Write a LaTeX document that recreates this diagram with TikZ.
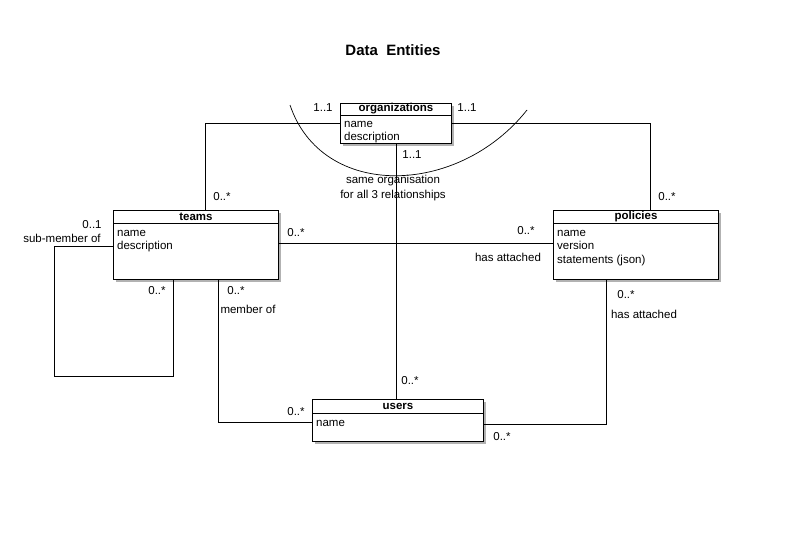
\documentclass[tikz,border=0pt]{standalone}
\usepackage{fontspec}
\setmainfont{Liberation Sans}
\usetikzlibrary{shadows}
\tikzset{
      entity/.style={draw=black, fill=white, line width=1, anchor=north west, inner sep=0,
            drop shadow={shadow xshift=2.5pt, shadow yshift=-2.5pt, opacity=.5, fill=black!60}},
      header/.style={font=\fontsize{11.5}{13}\selectfont\bfseries, inner sep=0},
      attrs/.style={font=\fontsize{11.5}{13.5}\selectfont, anchor=north west, align=left, inner ysep=0, inner xsep=4},
      rel/.style={draw=black, line width=0.9},
      lbl/.style={font=\fontsize{11.5}{13}\selectfont, inner sep=0},
}
\begin{document}
\begin{tikzpicture}[x=1pt, y=-1pt]
        \useasboundingbox (0,0) rectangle (805,536);

        % Title
        \node[font=\fontsize{15}{17}\selectfont\bfseries] (title) at (393,50) {Data\ \ Entities};

        % Draw the entities
        \node[entity, minimum width=111, minimum height=40] (org) at (340,103) {};
        \draw[line width=1] ([yshift=-12]org.north west) -- ([yshift=-12]org.north east);
        \node[header] (orgname) at ([yshift=-6]org.north) {organizations};
        \node[attrs] (orgattr) at ([yshift=-18]org.north west) {name\\description};

        \node[entity, minimum width=165, minimum height=69] (teams) at (113,210) {};
        \draw[line width=1] ([yshift=-13]teams.north west) -- ([yshift=-13]teams.north east);
        \node[header] (teamsname) at ([yshift=-6.5]teams.north) {teams};
        \node[attrs] (teamsattr) at ([yshift=-20]teams.north west) {name\\description};

        \node[entity, minimum width=165, minimum height=69] (policies) at (553,210) {};
        \draw[line width=1] ([yshift=-13]policies.north west) -- ([yshift=-13]policies.north east);
        \node[header] (policiesname) at ([yshift=-6.5]policies.north) {policies};
        \node[attrs] (policiesattr) at ([yshift=-20]policies.north west) {name\\version\\statements (json)};

        \node[entity, minimum width=171, minimum height=42] (users) at (312,399) {};
        \draw[line width=1] ([yshift=-14]users.north west) -- ([yshift=-14]users.north east);
        \node[header] (usersname) at ([yshift=-7]users.north) {users};
        \node[attrs] (usersattr) at ([yshift=-21]users.north west) {name};

        % Draw the relationships
        \coordinate (loop) at (54,376);
        \draw[rel] ([yshift=-20]org.north west) -| ([xshift=9.5]teams.north);
        \draw[rel] ([yshift=-20]org.north east) -| ([xshift=14.5]policies.north);
        \draw[rel] (org.south) -- (org.south |- users.north);
        \draw[rel] ([yshift=-33]teams.north east) -- ([yshift=-33]policies.north west);
        \draw[rel] ([yshift=-36]teams.north west) -| (loop) -| ([xshift=-22.5]teams.south);
        \draw[rel] ([xshift=22.5]teams.south) |- ([yshift=-23]users.north west);
        \draw[rel] ([xshift=-29.5]policies.south) |- ([yshift=-25]users.north east);

        % same organisation arc
        \draw[line width=0.7] (290,105) .. controls (322,200) and (458,197) .. (527,110);
        \node[lbl, align=center, font=\fontsize{11.5}{15}\selectfont] (note) at (393,188) {same organisation\\for all 3 relationships};

        % Multiplicities
        \node[lbl] (m1) at (323,108) {1..1};
        \node[lbl] (m2) at (467,108) {1..1};
        \node[lbl] (m3) at (412,155) {1..1};
        \node[lbl] (m4) at (222,197) {0..*};
        \node[lbl] (m5) at (667,197) {0..*};
        \node[lbl] (m6) at (92,225) {0..1};
        \node[lbl] (sub) at (62,238) {sub-member of};
        \node[lbl] (m7) at (296,233) {0..*};
        \node[lbl] (m8) at (526,231) {0..*};
        \node[lbl] (att1) at (508,257) {has attached};
        \node[lbl] (m9) at (157,291) {0..*};
        \node[lbl] (m10) at (236,291) {0..*};
        \node[lbl] (memb) at (248,309) {member of};
        \node[lbl] (m11) at (626,295) {0..*};
        \node[lbl] (att2) at (644,314) {has attached};
        \node[lbl] (m12) at (410,381) {0..*};
        \node[lbl] (m13) at (296,412) {0..*};
        \node[lbl] (m14) at (502,437) {0..*};

    \end{tikzpicture}
\end{document}
